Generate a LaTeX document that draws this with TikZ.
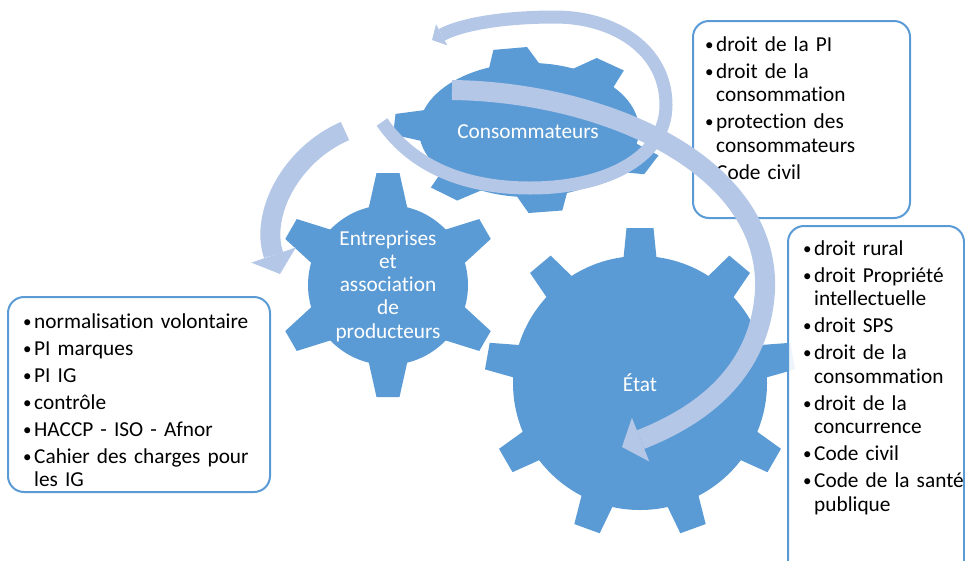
\documentclass[tikz,border=0pt]{standalone}
\usepackage{fontspec}
\setmainfont{Carlito}[Ligatures={NoCommon,NoContextual}]
\usetikzlibrary{arrows.meta,positioning}
\definecolor{gearblue}{RGB}{91,155,213}
\definecolor{arrowblue}{RGB}{180,199,231}
\newcommand{\gearfont}{\fontsize{21.3}{23.3}\selectfont}
\newcommand{\listfont}{\fontsize{21.3}{23.5}\selectfont}
% one bullet item, lines after the first hang under the text
\newcommand{\itm}[1]{\hangindent=11pt\hangafter=1\makebox[11pt][l]{\raisebox{0.8pt}{\fontsize{17}{17}\selectfont\textbullet}}#1\par\vspace{3.5pt}}

\begin{document}
\begin{tikzpicture}[
	x=1pt, y=-1pt,
	gearlabel/.style={text=white, font=\gearfont, inner sep=0pt},
	listbox/.style={draw=gearblue, line width=2pt, rounded corners=16pt, fill=white, fill opacity=0.9, outer sep=0pt, anchor=north west},
	listtext/.style={anchor=base west, align=left, inner sep=0pt, font=\listfont},
	bigarrow/.style={draw=arrowblue, line width=20pt, -{Triangle[length=20pt, width=47pt, line width=0pt]}},
	thinarrow/.style={draw=arrowblue, line width=13pt, -{Triangle[length=11pt, width=24pt, line width=0pt]}}
	]
	\useasboundingbox (0,0) rectangle (965,560);
	
	% gears
	\begin{scope}[shift={(640,383)}]
		\fill[gearblue] (0,0) circle[radius=127];
		\foreach \a in {90,130,...,410}
			\fill[gearblue, rotate=\a] (120,-17) -- (155,-13.5) -- (155,13.5) -- (120,17) -- cycle;
	\end{scope}
	\begin{scope}[shift={(388,285)}]
		\fill[gearblue] (0,0) circle[radius=80];
		\foreach \a in {30,90,...,330}
			\fill[gearblue, rotate=\a] (74,-20) -- (112,-11.5) -- (112,11.5) -- (74,20) -- cycle;
	\end{scope}
	\begin{scope}[shift={(529,130)}, yscale=0.61]
		\fill[gearblue] (0,0) circle[radius=110];
		\foreach \a in {53,98,176,231,277,335}
			\fill[gearblue, rotate=\a] (104,-26) -- (135,-17) -- (135,17) -- (104,26) -- cycle;
	\end{scope}
	
	\node[gearlabel] (conso) at (528,132) {Consommateurs};
	\node[gearlabel, align=center] (entre) at (388,286) {Entreprises\\et\\association\\de\\producteurs};
	\node[gearlabel] (etat) at (640,383) {État};
	
	% boxes
	\node[listbox, minimum width=217pt, minimum height=197pt] (consbox) at (693,21) {};
	\node[listbox, minimum width=176pt, minimum height=380pt] (etatbox) at (788,226) {};
	\node[listbox, minimum width=262pt, minimum height=195pt] (entrebox) at (8,297) {};
	
	\node[listtext, text width=200pt] (constext) at ([xshift=12pt, yshift=-30pt]consbox.north west)
		{\itm{droit de la PI}\itm{droit de la\newline consommation}\itm{protection des\newline consommateurs}\itm{Code civil}};
	\node[listtext, text width=165pt] (etattext) at ([xshift=15pt, yshift=-29pt]etatbox.north west)
		{\itm{droit rural}\itm{droit Propriété\newline intellectuelle}\itm{droit SPS}\itm{droit de la\newline consommation}\itm{droit de la\newline concurrence}\itm{Code civil}\itm{Code de la santé\newline publique}};
	\node[listtext, text width=240pt] (entretext) at ([xshift=15pt, yshift=-31pt]entrebox.north west)
		{\itm{normalisation volontaire}\itm{PI marques}\itm{PI IG}\itm{contrôle}\itm{HACCP - ISO - Afnor}\itm{Cahier des charges pour\newline les IG}};
	
	% arrows
	\coordinate (bigS) at (452,90);
	\coordinate (bigE) at (622,447);
	\coordinate (ringS) at (382,122);
	\coordinate (ringE) at (432,40);
	\coordinate (leftS) at (345,131);
	\coordinate (leftE) at (280,274);
	
	\draw[thinarrow] (ringS) .. controls (415,170) and (470,188) .. (530,188)
		.. controls (610,188) and (666,155) .. (666,105)
		.. controls (666,50) and (615,17) .. (555,17)
		.. controls (500,17) and (460,25) .. (ringE);
	\draw[bigarrow] (bigS) .. controls (605,92) and (770,165) .. (765,290)
		.. controls (760,380) and (690,420) .. (bigE);
	\draw[bigarrow] (leftS) .. controls (290,155) and (260,215) .. (leftE);
\end{tikzpicture}
\end{document}
